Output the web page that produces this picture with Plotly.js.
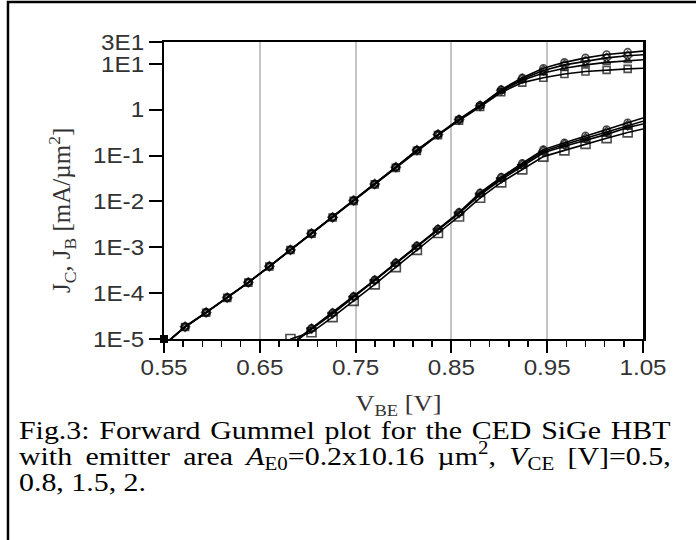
<!DOCTYPE html>
<html>
<head>
<meta charset="utf-8">
<script src="https://cdn.plot.ly/plotly-3.0.1.min.js"></script>
<style>
html,body{margin:0;padding:0;background:#fff;}
#chart{width:696px;height:540px;}
</style>
</head>
<body>
<div id="chart"></div>
<script>
// V_BE grid [V]: line start, measured points, line end
const vbe = [0.55, 0.572, 0.594, 0.616, 0.638, 0.660, 0.682, 0.704, 0.726, 0.748, 0.770, 0.792,
             0.814, 0.836, 0.858, 0.880, 0.902, 0.924, 0.946, 0.968, 0.990, 1.012, 1.034, 1.05];

// Collector current density J_C [mA/um^2] for V_CE = 2, 1.5, 0.8, 0.5 V
const jcVce2  = [7.5e-6, 1.85e-5, 3.8e-5, 8.0e-5, 1.72e-4, 3.85e-4, 8.8e-4, 2.0e-3, 4.5e-3, 1.05e-2, 2.4e-2, 5.6e-2,
                 0.132, 0.29, 0.62, 1.25, 2.75, 5.0, 8.0, 10.8, 13.5, 16.0, 18.0, 19.0];
const jcVce15 = [7.5e-6, 1.85e-5, 3.8e-5, 8.0e-5, 1.72e-4, 3.85e-4, 8.8e-4, 2.0e-3, 4.5e-3, 1.05e-2, 2.4e-2, 5.6e-2,
                 0.132, 0.29, 0.61, 1.22, 2.65, 4.7, 7.2, 9.5, 11.5, 13.5, 15.0, 15.8];
const jcVce08 = [7.4e-6, 1.83e-5, 3.75e-5, 7.9e-5, 1.7e-4, 3.8e-4, 8.7e-4, 1.98e-3, 4.45e-3, 1.04e-2, 2.38e-2, 5.5e-2,
                 0.13, 0.285, 0.6, 1.2, 2.55, 4.4, 6.3, 8.0, 9.5, 10.8, 11.8, 12.3];
const jcVce05 = [7.4e-6, 1.83e-5, 3.75e-5, 7.9e-5, 1.7e-4, 3.8e-4, 8.7e-4, 1.98e-3, 4.45e-3, 1.03e-2, 2.35e-2, 5.4e-2,
                 0.127, 0.28, 0.58, 1.15, 2.4, 3.9, 5.0, 6.0, 6.8, 7.4, 7.8, 8.0];

// Base current density J_B [mA/um^2] for V_CE = 2, 1.5, 0.8, 0.5 V
const jbVce2  = [null, null, null, null, null, null, 7.6e-6, 1.72e-5, 3.75e-5, 8.5e-5, 1.95e-4, 4.6e-4,
                 1.08e-3, 2.5e-3, 5.8e-3, 1.55e-2, 3.4e-2, 6.8e-2, 0.135, 0.19, 0.27, 0.37, 0.52, 0.66];
const jbVce15 = [null, null, null, null, null, null, 7.4e-6, 1.68e-5, 3.65e-5, 8.3e-5, 1.9e-4, 4.5e-4,
                 1.05e-3, 2.45e-3, 5.6e-3, 1.48e-2, 3.2e-2, 6.3e-2, 0.125, 0.175, 0.24, 0.33, 0.46, 0.56];
const jbVce08 = [null, null, null, null, null, null, 7.2e-6, 1.64e-5, 3.55e-5, 8.1e-5, 1.85e-4, 4.4e-4,
                 1.03e-3, 2.4e-3, 5.5e-3, 1.4e-2, 3.0e-2, 5.8e-2, 0.115, 0.16, 0.215, 0.29, 0.41, 0.49];
const jbVce05 = [null, null, null, null, null, null, 1.0e-5, 1.4e-5, 3.0e-5, 6.8e-5, 1.55e-4, 3.7e-4,
                 8.8e-4, 2.05e-3, 4.7e-3, 1.2e-2, 2.6e-2, 5.0e-2, 0.095, 0.13, 0.18, 0.24, 0.32, 0.38];

// corner measured point
const cornerV = [0.55];
const cornerJ = [1.0e-5];

// axis ticks
const xTickVals = [0.55, 0.65, 0.75, 0.85, 0.95, 1.05];
const xTickText = ['0.55', '0.65', '0.75', '0.85', '0.95', '1.05'];
const yTickVals = [30, 10, 1, 0.1, 0.01, 0.001, 0.0001, 0.00001];
const yTickText = ['3E1', '1E1', '1', '1E-1', '1E-2', '1E-3', '1E-4', '1E-5'];

const sizesFor = (arr, s) => arr.map((v, i) => (i === 0 || i === arr.length - 1) ? 0 : s);

function series(y, symbol, size) {
  return {
    x: vbe, y: y, type: 'scatter', mode: 'lines+markers',
    line: {color: '#000', width: 1.6},
    marker: {symbol: symbol, size: sizesFor(y, size), color: '#000', line: {color: '#000', width: 1.6}},
    showlegend: false, hoverinfo: 'skip'
  };
}

const traces = [
  series(jcVce2, 'circle-open', 7),
  series(jcVce15, 'diamond-open', 7),
  series(jcVce08, 'triangle-up-open', 7),
  series(jcVce05, 'square-open', 7),
  series(jbVce2, 'circle-open', 7),
  series(jbVce15, 'diamond-open', 7),
  series(jbVce08, 'triangle-up-open', 7),
  series(jbVce05, 'square-open', 9),
  {x: cornerV, y: cornerJ, type: 'scatter', mode: 'markers', cliponaxis: false,
   marker: {symbol: 'square', size: 8, color: '#000'}, showlegend: false, hoverinfo: 'skip'}
];

const tickFont = {family: 'Liberation Sans, Arial, sans-serif', size: 22, color: '#333'};
const serif = 'Liberation Serif, Times New Roman, serif';

const layout = {
  width: 696, height: 540,
  margin: {l: 164, r: 53, t: 42, b: 201, pad: 0},
  paper_bgcolor: '#fff', plot_bgcolor: '#fff',
  showlegend: false,
  xaxis: {
    type: 'linear', range: [0.55, 1.05],
    tickvals: xTickVals, ticktext: xTickText,
    ticks: 'outside', ticklen: 12, tickwidth: 2, tickcolor: '#000', ticklabelstandoff: -4,
    minor: {dtick: 0.02, tick0: 0.55, ticks: 'outside', ticklen: 6, tickwidth: 1.5, tickcolor: '#000', showgrid: false},
    showgrid: true, gridcolor: '#c4c4c4', gridwidth: 2,
    showline: true, linecolor: '#000', linewidth: 2, mirror: true,
    zeroline: false, tickfont: tickFont, fixedrange: true
  },
  yaxis: {
    type: 'log', range: [-5, Math.log10(30)],
    tickvals: yTickVals, ticktext: yTickText,
    ticks: 'outside', ticklen: 13, tickwidth: 2, tickcolor: '#000',
    showgrid: false,
    showline: true, linecolor: '#000', linewidth: 2.5, mirror: true,
    zeroline: false, tickfont: tickFont, fixedrange: true
  },
  shapes: [
    {type: 'rect', xref: 'paper', yref: 'paper', x0: -0.3257, x1: 1.3, y0: -0.75, y1: 1.1347,
     line: {color: '#000', width: 2.5}, fillcolor: 'rgba(0,0,0,0)', layer: 'below'}
  ],
  annotations: [
    {xref: 'paper', yref: 'paper', x: -0.213, y: 0.434, textangle: -90, showarrow: false,
     xanchor: 'center', yanchor: 'middle',
     text: 'J<sub>C</sub>, J<sub>B</sub> [mA/µm<sup>2</sup>]', font: {family: serif, size: 25, color: '#333'}},
    {xref: 'paper', yref: 'paper', x: 0.4906, y: -0.222, showarrow: false,
     xanchor: 'center', yanchor: 'middle',
     text: 'V<sub>BE</sub> [V]', font: {family: serif, size: 23, color: '#333'}},
    {xref: 'paper', yref: 'paper', x: -0.307, y: -0.307, showarrow: false, xanchor: 'left', yanchor: 'middle', align: 'left',
     text: 'Fig.3: Forward Gummel plot for the CED SiGe HBT', font: {family: serif, size: 26, color: '#000'}},
    {xref: 'paper', yref: 'paper', x: -0.307, y: -0.393, showarrow: false, xanchor: 'left', yanchor: 'middle', align: 'left',
     text: 'with emitter area <i>A</i><sub>E0</sub>=0.2x10.16 µm<sup>2</sup>, <i>V</i><sub>CE</sub> [V]=0.5,', font: {family: serif, size: 26, color: '#000'}},
    {xref: 'paper', yref: 'paper', x: -0.307, y: -0.482, showarrow: false, xanchor: 'left', yanchor: 'middle', align: 'left',
     text: '0.8, 1.5, 2.', font: {family: serif, size: 26, color: '#000'}}
  ]
};

// horizontally widen a text element about an anchor point (matches the stretched look of the original)
function widen(t, sx, anchor, extraWordSpace) {
  if (extraWordSpace) t.style.wordSpacing = extraWordSpace + 'px';
  const bb = t.getBBox();
  const ax = anchor === 'left' ? bb.x : anchor === 'right' ? bb.x + bb.width : bb.x + bb.width / 2;
  const tr = t.getAttribute('transform') || '';
  t.setAttribute('transform', (tr + ` translate(${ax},0) scale(${sx},1) translate(${-ax},0)`).trim());
}

Plotly.newPlot('chart', traces, layout, {staticPlot: true, displayModeBar: false}).then(gd => {
  const tickSx = 1.1;
  gd.querySelectorAll('.xtick text').forEach(t => widen(t, tickSx, 'middle'));
  gd.querySelectorAll('.ytick text').forEach(t => widen(t, tickSx, 'right'));
  const anns = gd.querySelectorAll('g.annotation text.annotation-text');
  const capSx = 1.15;
  const targetW = 652;   // justified caption line width in pixels
  if (anns[1]) widen(anns[1], capSx, 'middle');
  [2, 3].forEach(i => {
    const t = anns[i];
    if (!t) return;
    const w = t.getBBox().width;
    const nSp = (t.textContent.match(/ /g) || []).length;
    const extra = nSp ? Math.max(0, (targetW / capSx - w) / nSp) : 0;
    widen(t, capSx, 'left', extra);
  });
  if (anns[4]) widen(anns[4], capSx, 'left');
});
</script>
</body>
</html>
